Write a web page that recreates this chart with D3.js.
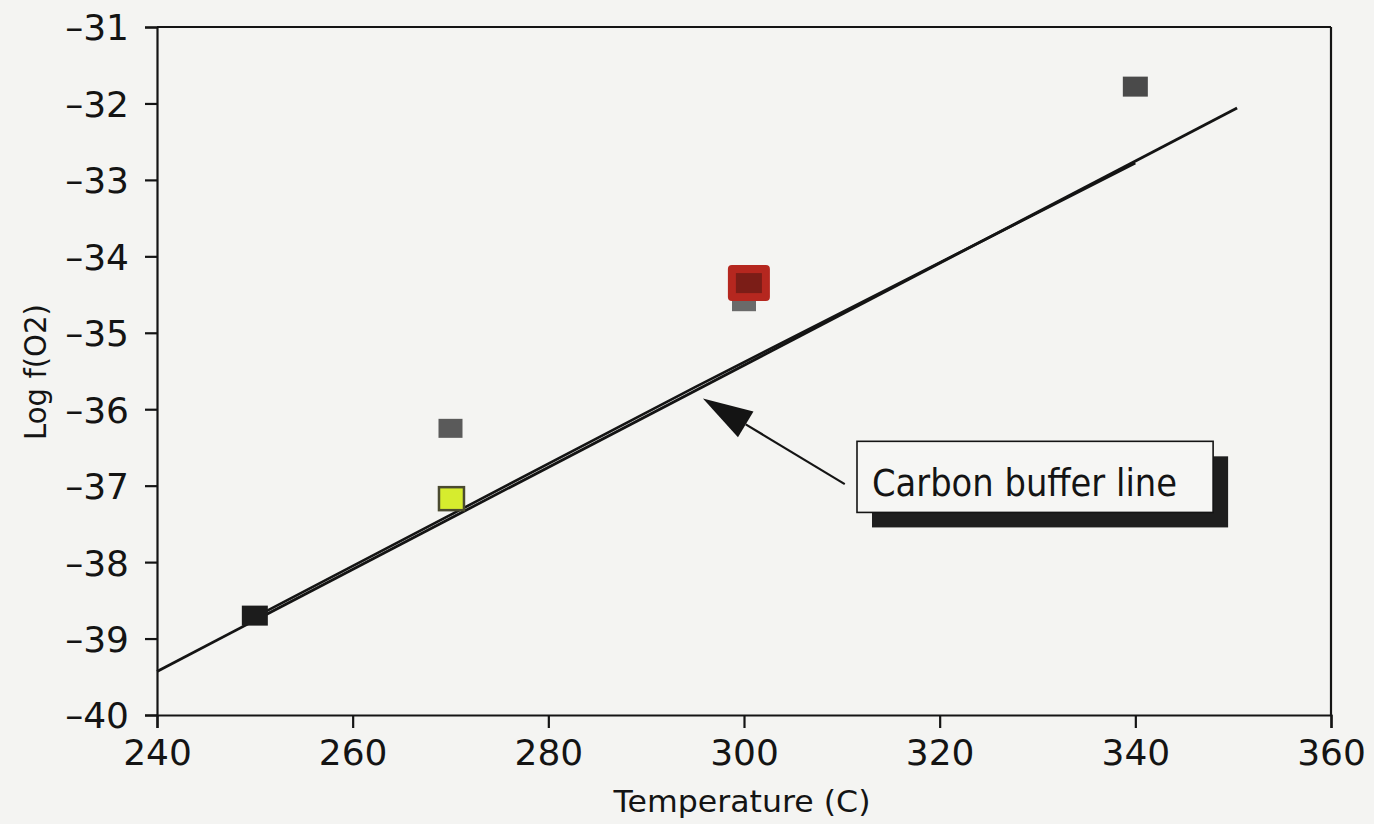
<!DOCTYPE html>
<html><head><meta charset="utf-8">
<script src="https://cdn.jsdelivr.net/npm/d3@7"></script>
<style>
html,body{margin:0;padding:0;background:#f4f4f2;}
svg{display:block;}
</style></head>
<body>
<svg id="c" width="1374" height="824"></svg>
<script>
// ---- data ----
const xTicks = [240, 260, 280, 300, 320, 340, 360];
const yTicks = [-40, -39, -38, -37, -36, -35, -34, -33, -32, -31];
const pointTemps = [250, 270, 300, 300.5, 340, 270.1];
const pointLogf  = [-38.7, -36.25, -34.6, -34.35, -31.78, -37.17];
const pointKinds = ["black", "gray", "gray2", "red", "gray3", "yellow"];
const line1Temps = [240, 350.4];
const line1Logf  = [-39.43, -32.06];
const line2Temps = [250, 295, 340];
const line2Logf  = [-38.72, -35.71, -32.78];
const labelText = "Carbon buffer line";
const xTitle = "Temperature (C)";
const yTitle = "Log f(O2)";

// ---- layout ----
const svg = d3.select("#c");
const x = d3.scaleLinear().domain([240, 360]).range([157, 1331]);
const y = d3.scaleLinear().domain([-40, -31]).range([715, 27]);
const ink = "#141414";
const font = "'DejaVu Sans', sans-serif";

// frame (top & right border)
svg.append("line").attr("x1", x(240)).attr("x2", x(360)).attr("y1", y(-31)).attr("y2", y(-31))
  .attr("stroke", ink).attr("stroke-width", 2.2);
svg.append("line").attr("x1", x(360)).attr("x2", x(360)).attr("y1", y(-31)).attr("y2", y(-40))
  .attr("stroke", ink).attr("stroke-width", 2.2);

// axes
const xAxis = svg.append("g").attr("transform", `translate(0,${y(-40)})`)
  .call(d3.axisBottom(x).tickValues(xTicks).tickSize(13).tickPadding(11).tickFormat(d3.format("d")));
const yAxis = svg.append("g").attr("transform", `translate(${x(240)},0)`)
  .call(d3.axisLeft(y).tickValues(yTicks).tickSize(12).tickPadding(16).tickFormat(d => "\u2013" + Math.abs(d)));
[xAxis, yAxis].forEach(g => {
  g.select(".domain").attr("stroke", ink).attr("stroke-width", 2.2);
  g.selectAll(".tick line").attr("stroke", ink).attr("stroke-width", 2.2);
  g.selectAll("text").attr("fill", ink).style("font-family", font).style("font-size", "36px");
});
xAxis.selectAll("text").attr("dy", "0.71em");
yAxis.selectAll("text").attr("dy", "0.36em");

// titles
svg.append("text").attr("x", 742).attr("y", 812).attr("text-anchor", "middle")
  .attr("fill", ink).style("font-family", font).style("font-size", "31px")
  .attr("textLength", 257).attr("lengthAdjust", "spacingAndGlyphs").text(xTitle);
svg.append("text").attr("transform", `translate(46,${372}) rotate(-90)`).attr("text-anchor", "middle")
  .attr("fill", ink).style("font-family", font).style("font-size", "31px")
  .attr("textLength", 136).attr("lengthAdjust", "spacingAndGlyphs").text(yTitle);

// buffer lines
const lineGen = d3.line().x(d => x(d[0])).y(d => y(d[1]));
svg.append("path").datum(line1Temps.map((t, i) => [t, line1Logf[i]])).attr("d", lineGen)
  .attr("fill", "none").attr("stroke", ink).attr("stroke-width", 2.8);
svg.append("path").datum(line2Temps.map((t, i) => [t, line2Logf[i]])).attr("d", lineGen)
  .attr("fill", "none").attr("stroke", ink).attr("stroke-width", 2.6);

// points
const styles = {
  black:  {w: 26, h: 20, fill: "#1c1c1c", stroke: "none"},
  gray:   {w: 24, h: 19, fill: "#5a5a5a", stroke: "none"},
  gray2:  {w: 24, h: 18, fill: "#6a6a6a", stroke: "none"},
  red:    {w: 42, h: 36, fill: "#b5271f", stroke: "none"},
  gray3:  {w: 25, h: 20, fill: "#4a4a4a", stroke: "none"},
  yellow: {w: 25, h: 23, fill: "#d6ec2e", stroke: "#4a4a30"}
};
const pts = pointTemps.map((t, i) => ({t, v: pointLogf[i], k: pointKinds[i]}));
svg.append("g").selectAll("rect").data(pts).join("rect")
  .attr("x", d => x(d.t) - styles[d.k].w / 2)
  .attr("y", d => y(d.v) - styles[d.k].h / 2)
  .attr("width", d => styles[d.k].w).attr("height", d => styles[d.k].h)
  .attr("fill", d => styles[d.k].fill)
  .attr("stroke", d => styles[d.k].stroke).attr("stroke-width", 2.5)
  .attr("rx", d => d.k === "red" ? 4 : 0);
// dark core of the red-marked point
const red = pts.find(d => d.k === "red");
svg.append("rect").attr("x", x(red.t) - 13).attr("y", y(red.v) - 10).attr("width", 26).attr("height", 20)
  .attr("fill", "#4a1510").attr("opacity", 0.55);

// annotation: arrow + label box
const tip = [x(295.8), y(-35.86)];
const tail = [x(310.3), y(-36.98)];
const ang = Math.atan2(tail[1] - tip[1], tail[0] - tip[0]);
const hl = 50, hw = 15;
const bx = tip[0] + hl * Math.cos(ang), by = tip[1] + hl * Math.sin(ang);
svg.append("line").attr("x1", bx).attr("y1", by).attr("x2", tail[0]).attr("y2", tail[1])
  .attr("stroke", ink).attr("stroke-width", 2.2);
svg.append("path").attr("d", `M${tip[0]},${tip[1]} L${bx + hw*Math.sin(ang)},${by - hw*Math.cos(ang)} L${bx - hw*Math.sin(ang)},${by + hw*Math.cos(ang)} Z`)
  .attr("fill", ink);

const bx0 = x(311.55), bx1 = x(347.95), by0 = y(-36.42), by1 = y(-37.35);
svg.append("rect").attr("x", bx0 + 15).attr("y", by0 + 15).attr("width", bx1 - bx0).attr("height", by1 - by0)
  .attr("fill", "#1e1e1e");
svg.append("rect").attr("x", bx0).attr("y", by0).attr("width", bx1 - bx0).attr("height", by1 - by0)
  .attr("fill", "#f6f6f4").attr("stroke", ink).attr("stroke-width", 1.6);
svg.append("text").attr("x", bx0 + 15).attr("y", y(-37.14)).attr("fill", ink)
  .style("font-family", font).style("font-size", "37px")
  .attr("textLength", 305).attr("lengthAdjust", "spacingAndGlyphs").text(labelText);
</script>
</body></html>
